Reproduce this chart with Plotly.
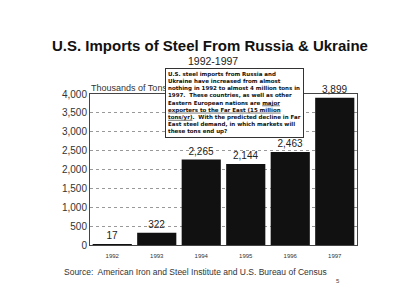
import plotly.graph_objects as go

years = ["1992", "1993", "1994", "1995", "1996", "1997"]
imports = [17, 322, 2265, 2144, 2463, 3899]
bar_labels = ["17", "322", "2,265", "2,144", "2,463", "3,899"]
y_ticks = [0, 500, 1000, 1500, 2000, 2500, 3000, 3500, 4000]

L, R, T, B = 90, 43, 94, 63
PW, PH = 400 - L - R, 308 - T - B


def px(x):
    return (x - L) / PW


def py(y):
    return (308 - B - y) / PH


fig = go.Figure()
fig.add_trace(go.Bar(
    x=years, y=imports, text=bar_labels, textposition="outside",
    textfont=dict(size=10, color="#222", family="Liberation Sans"),
    marker=dict(color="#111111", line=dict(width=0)),
    cliponaxis=False,
))

fig.update_layout(
    width=400, height=308,
    margin=dict(l=L, r=R, t=T, b=B),
    paper_bgcolor="white", plot_bgcolor="white",
    bargap=0.12,
    showlegend=False,
    font=dict(family="Liberation Sans", color="#222"),
)
fig.update_xaxes(
    type="category", showline=True, linecolor="#444", linewidth=1, mirror=True,
    tickfont=dict(size=6, color="#333"), ticks="", showgrid=False,
    ticklabelstandoff=5,
)
fig.update_yaxes(
    range=[0, 4000], tickvals=y_ticks, tickformat=",",
    showline=True, linecolor="#444", linewidth=1, mirror=True,
    tickfont=dict(size=10, color="#333"), ticks="",
    showgrid=True, gridcolor="#999", griddash="dot", gridwidth=1,
    zeroline=False,
)

fig.add_annotation(text="<b>U.S. Imports of Steel From Russia &amp; Ukraine</b>",
                   x=px(210), y=py(46), xref="paper", yref="paper",
                   xanchor="center", yanchor="middle", showarrow=False,
                   font=dict(size=15, color="#111", family="Liberation Sans"))
fig.add_annotation(text="1992-1997", x=px(213), y=py(61), xref="paper", yref="paper",
                   xanchor="center", yanchor="middle", showarrow=False,
                   font=dict(size=10.5, color="#222", family="Liberation Sans"))
fig.add_annotation(text="Thousands of Tons", x=px(89), y=py(88), xref="paper", yref="paper",
                   xanchor="left", yanchor="middle", showarrow=False,
                   font=dict(size=9, color="#333", family="Liberation Sans"))
fig.add_annotation(
    text=("<b>U.S. steel imports from Russia and<br>"
          "Ukraine have increased from almost<br>"
          "nothing in 1992 to almost 4 million tons in<br>"
          "1997.  These countries, as well as other<br>"
          "Eastern European nations are <u>major</u><br>"
          "<u>exporters to the Far East (15 million</u><br>"
          "<u>tons/yr)</u>.  With the predicted decline in Far<br>"
          "East steel demand, in which markets will<br>"
          "these tons end up?</b>"),
    x=px(165), y=py(67.5), xref="paper", yref="paper", xanchor="left", yanchor="top",
    align="left", showarrow=False,
    font=dict(size=5.5, color="#111", family="DejaVu Sans"),
    bgcolor="white", bordercolor="#333", borderwidth=1, borderpad=2,
)
fig.add_annotation(text="Source:  American Iron and Steel Institute and U.S. Bureau of Census",
                   x=px(62), y=py(272), xref="paper", yref="paper",
                   xanchor="left", yanchor="middle", showarrow=False,
                   font=dict(size=8.5, color="#333", family="Liberation Sans"))
fig.add_annotation(text="5", x=px(338), y=py(281), xref="paper", yref="paper",
                   xanchor="center", yanchor="middle", showarrow=False,
                   font=dict(size=6, color="#444"))

fig.write_html("out.html")
